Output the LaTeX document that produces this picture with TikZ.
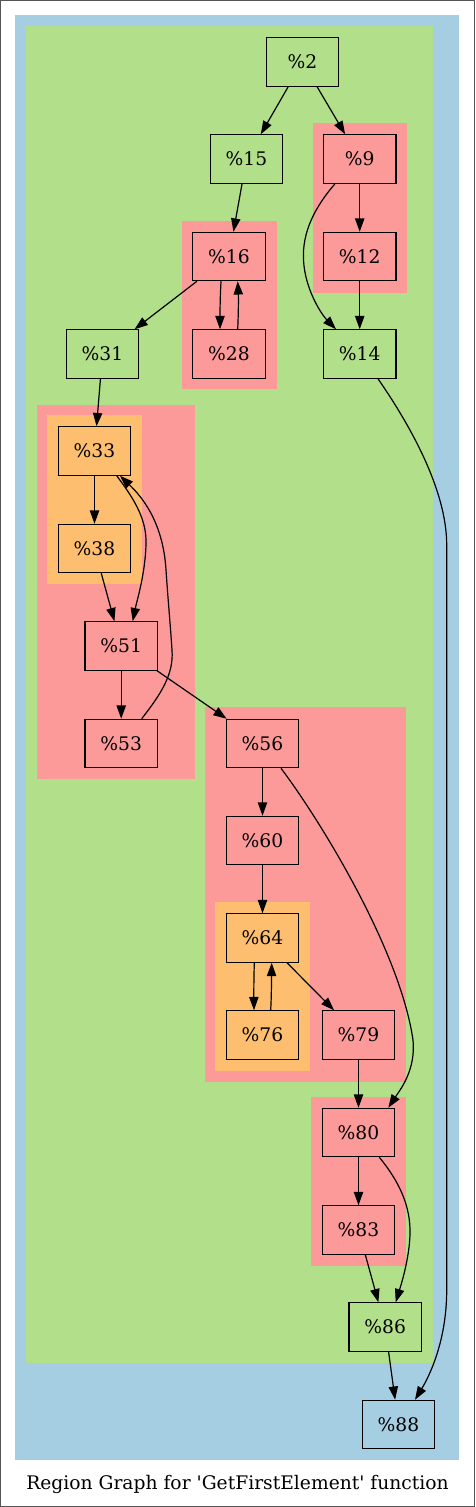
\documentclass[tikz,border=0pt]{standalone}
\usepackage{fontspec}
\setmainfont{DejaVu Serif}[Ligatures=TeXOff]
\usetikzlibrary{arrows.meta}
\definecolor{cblue}{HTML}{A6CEE3}
\definecolor{cgreen}{HTML}{B2DF8A}
\definecolor{cred}{HTML}{FB9A99}
\definecolor{corange}{HTML}{FDBF6F}
\definecolor{frame}{HTML}{555555}
\begin{document}
\begin{tikzpicture}[x=1pt,y=-1pt,
  bb/.style={draw=black,line width=1.2pt,minimum width=72.4pt,minimum height=48.3pt,inner sep=0pt,font=\fontsize{18.7}{22}\selectfont},
  gn/.style={bb,fill=cgreen},
  rn/.style={bb,fill=cred},
  on/.style={bb,fill=corange},
  un/.style={bb,fill=cblue},
  e/.style={line width=1.2pt,-{Triangle[length=13.3pt,width=9.3pt]}},
  clu/.style={draw=none}]
\useasboundingbox (0,0) rectangle (475,1507);
\draw[frame,line width=1.2pt] (0.6,0.6) rectangle (474.4,1506.4);
% clusters
\fill[cblue] (15.3,15.3) rectangle (459.3,1460);
\fill[cgreen] (26,26) rectangle (432.7,1363);
\fill[cred] (312.7,123.3) rectangle (407.3,292.7);
\fill[cred] (182,220.7) rectangle (276.7,389.3);
\fill[cred] (36.7,404.7) rectangle (195,779);
\fill[corange] (47.3,415) rectangle (142,584.3);
\fill[cred] (204.7,707.3) rectangle (405.7,1081.7);
\fill[corange] (215.3,902) rectangle (310,1071);
\fill[cred] (311.3,1096.7) rectangle (405.7,1265.7);
% nodes
\node[gn] (n2) at (302.5,62) {\%2};
\node[gn] (n15) at (246.5,159) {\%15};
\node[rn] (n9) at (359.7,159) {\%9};
\node[rn] (n16) at (229,256.5) {\%16};
\node[rn] (n12) at (359.7,256.5) {\%12};
\node[rn] (n28) at (229,354) {\%28};
\node[gn] (n31) at (102.5,354) {\%31};
\node[gn] (n14) at (359.7,354) {\%14};
\node[on] (n33) at (94.5,451) {\%33};
\node[on] (n38) at (94.5,548.5) {\%38};
\node[rn] (n51) at (121.2,646) {\%51};
\node[rn] (n53) at (121.2,743.5) {\%53};
\node[rn] (n56) at (262.5,743.5) {\%56};
\node[rn] (n60) at (262.5,840.5) {\%60};
\node[on] (n64) at (262.5,938) {\%64};
\node[on] (n76) at (262.5,1035) {\%76};
\node[rn] (n79) at (358.5,1035) {\%79};
\node[rn] (n80) at (358.5,1132.5) {\%80};
\node[rn] (n83) at (358.5,1230) {\%83};
\node[gn] (n86) at (385.2,1327) {\%86};
\node[un] (n88) at (398.5,1424.5) {\%88};
\node[font=\fontsize{18.7}{22}\selectfont] (title) at (237.5,1484) {Region Graph for 'GetFirstElement' function};
% edges
\draw[e] (n2) -- (n15);
\draw[e] (n2) -- (n9);
\draw[e] (n15) -- (n16);
\draw[e] (n9) -- (n12);
\draw[e] (n12) -- (n14);
\draw[e] ([xshift=-24.7pt]n9.south) .. controls (315,207) and (302,232) .. (303.5,260) .. controls (305,290) and (322,315) .. ([xshift=-23.7pt]n14.north);
\draw[e] ([xshift=-8pt]n16.south) .. controls (220,300) and (220,315) .. ([xshift=-9pt]n28.north);
\draw[e] ([xshift=8.7pt]n28.north) .. controls (238.5,312) and (238.5,298) .. ([xshift=8.7pt]n16.south);
\draw[e] (n16) -- (n31);
\draw[e] ([xshift=18.3pt]n14.south) .. controls (410,425) and (446.7,490) .. (446.7,545) -- (446.7,1290) .. controls (446.7,1340) and (430,1375) .. ([xshift=16.5pt]n88.north);
\draw[e] (n31) -- (n33);
\draw[e] (n33) -- (n38);
\draw[e] ([xshift=22.2pt]n33.south) .. controls (135,500) and (147,520) .. (146,545) .. controls (145,575) and (137,600) .. ([xshift=11.5pt]n51.north);
\draw[e] ([xshift=20.5pt]n53.north) .. controls (160,695) and (174,675) .. (172,650) .. controls (170,620) and (168,600) .. (166,570) .. controls (163,520) and (140,495) .. ([xshift=25.5pt]n33.south);
\draw[e] (n38) -- (n51);
\draw[e] (n51) -- (n53);
\draw[e] (n51) -- (n56);
\draw[e] (n56) -- (n60);
\draw[e] ([xshift=18.5pt]n56.south) .. controls (320,820) and (400,950) .. (413,1040) .. controls (416,1070) and (400,1090) .. ([xshift=29.8pt]n80.north);
\draw[e] (n60) -- (n64);
\draw[e] ([xshift=-8.2pt]n64.south) .. controls (253.8,980) and (253.8,995) .. ([xshift=-8.5pt]n76.north);
\draw[e] ([xshift=8.2pt]n76.north) .. controls (271.5,995) and (271.5,980) .. ([xshift=9.2pt]n64.south);
\draw[e] (n64) -- (n79);
\draw[e] (n79) -- (n80);
\draw[e] (n80) -- (n83);
\draw[e] ([xshift=20.8pt]n80.south) .. controls (398,1180) and (411,1205) .. (410,1235) .. controls (409,1260) and (401,1285) .. ([xshift=10.5pt]n86.north);
\draw[e] (n83) -- (n86);
\draw[e] (n86) -- (n88);
\end{tikzpicture}
\end{document}
